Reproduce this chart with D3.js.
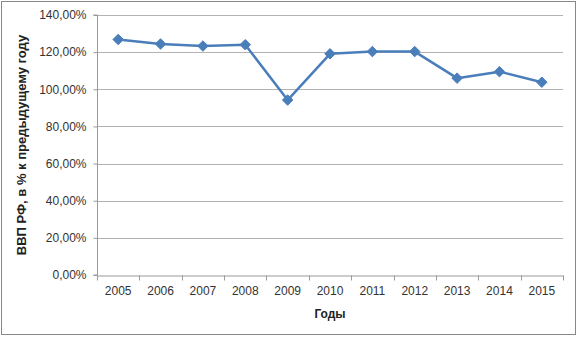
<!DOCTYPE html>
<html><head><meta charset="utf-8">
<script src="https://cdn.jsdelivr.net/npm/d3@7"></script>
<style>body{margin:0;background:#fff}svg{display:block}</style>
</head><body>
<script>
const years = ["2005","2006","2007","2008","2009","2010","2011","2012","2013","2014","2015"];
const gdp = [126.8, 124.4, 123.3, 124.0, 94.2, 119.1, 120.3, 120.3, 106.0, 109.5, 103.8];
const yTicks = [0, 20, 40, 60, 80, 100, 120, 140];
const yTitle = "ВВП РФ, в % к предыдущему году";
const xTitle = "Годы";

const W = 578, H = 337;
const m = {left: 97, right: 15, top: 15, bottom: 62};
const svg = d3.select("body").append("svg").attr("width", W).attr("height", H);
svg.append("rect").attr("x", 1.5).attr("y", 1.5).attr("width", W - 4).attr("height", H - 4)
  .attr("fill", "#fff").attr("stroke", "#888").attr("stroke-width", 1);

const x = d3.scaleBand().domain(years).range([m.left, W - m.right]);
const y = d3.scaleLinear().domain([0, 140]).range([H - m.bottom, m.top]);
const font = "'Liberation Sans', Arial, sans-serif";

// gridlines
svg.append("g").selectAll("line").data(yTicks.filter(d => d > 0)).join("line")
  .attr("x1", m.left).attr("x2", W - m.right)
  .attr("y1", d => Math.round(y(d)) + 0.5).attr("y2", d => Math.round(y(d)) + 0.5)
  .attr("stroke", "#b3b3b3").attr("stroke-width", 1);

// y axis
const ya = svg.append("g").attr("transform", `translate(${m.left + 0.5},0)`)
  .call(d3.axisLeft(y).tickValues(yTicks).tickSize(4).tickPadding(7)
    .tickFormat(d => d3.format(".2f")(d).replace(".", ",") + "%"));
ya.select(".domain").attr("stroke", "#999").attr("d", `M-4,${y(0)}H0V${y(140)}H-4`);
ya.selectAll(".tick line").attr("stroke", "#999");
ya.selectAll("text").attr("font-family", font).attr("font-size", 12).attr("fill", "#333");

// x axis
const xa = svg.append("g").attr("transform", `translate(0,${Math.round(y(0)) + 0.5})`)
  .call(d3.axisBottom(x).tickSize(0).tickPadding(11));
xa.select(".domain").attr("stroke", "#999");
xa.selectAll("text").attr("font-family", font).attr("font-size", 12).attr("fill", "#333");
xa.selectAll(".tickmark").data(years.concat(["end"])).join("line")
  .attr("x1", (d, i) => Math.round(m.left + i * x.step()) + 0.5)
  .attr("x2", (d, i) => Math.round(m.left + i * x.step()) + 0.5)
  .attr("y1", 0).attr("y2", 5).attr("stroke", "#999");

// line
const cx = d => x(d) + x.bandwidth() / 2;
svg.append("path").datum(years.map((d, i) => [cx(d), y(gdp[i])]))
  .attr("fill", "none").attr("stroke", "#4a7ebb").attr("stroke-width", 2.5)
  .attr("stroke-linejoin", "round").attr("d", d3.line());
svg.append("g").selectAll("path").data(years).join("path")
  .attr("transform", (d, i) => `translate(${cx(d)},${y(gdp[i])})`)
  .attr("d", d3.symbol(d3.symbolDiamond2, 70)())
  .attr("fill", "#4a7ebb").attr("stroke", "#4a7ebb").attr("stroke-width", 1);

// titles
svg.append("text").attr("x", (m.left + W - m.right) / 2).attr("y", 318)
  .attr("text-anchor", "middle").attr("font-family", font).attr("font-size", 12)
  .attr("font-weight", "bold").attr("fill", "#222").text(xTitle);
svg.append("text").attr("transform", `translate(26,${(y(0) + y(140)) / 2}) rotate(-90)`)
  .attr("text-anchor", "middle").attr("font-family", font).attr("font-size", 13)
  .attr("font-weight", "bold").attr("fill", "#222").text(yTitle);
</script>
</body></html>
